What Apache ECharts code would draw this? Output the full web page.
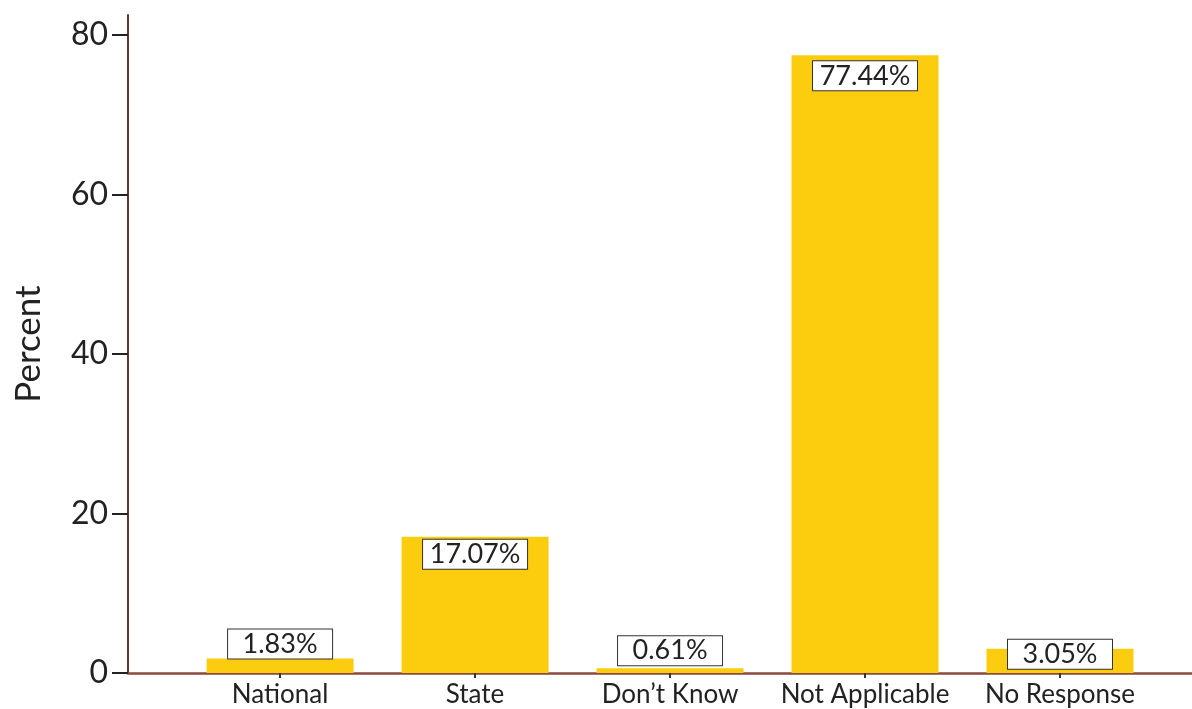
<!DOCTYPE html>
<html>
<head>
<meta charset="utf-8">
<script src="https://cdn.jsdelivr.net/npm/echarts@6/dist/echarts.min.js"></script>
<style>
  html, body { margin: 0; padding: 0; background: #fff; }
  #chart { width: 1192px; height: 709px; }
</style>
</head>
<body>
<div id="chart"></div>
<script>
var categories = ['National', 'State', 'Don\u2019t Know', 'Not Applicable', 'No Response'];
var percents = [1.83, 17.07, 0.61, 77.44, 3.05];
var yTicks = [0, 20, 40, 60, 80];

// label box placement relative to each bar top (px)
var labelShift = [0, 32, -3, 35, 20];

var chart = echarts.init(document.getElementById('chart'), null, { renderer: 'canvas' });

var barData = percents.map(function (v, i) {
  return {
    value: [i, v],
    label: { offset: [0, labelShift[i]] }
  };
});

var option = {
  animation: false,
  grid: { left: 128, right: 0, top: 15, bottom: 36 },
  xAxis: {
    type: 'value',
    min: -0.78,
    max: 4.677,
    splitLine: { show: false },
    axisLine: { show: true, onZero: false, lineStyle: { color: '#8a4a3e', width: 2.5 } },
    axisTick: {
      show: true,
      customValues: [0, 1, 2, 3, 4],
      length: 5,
      lineStyle: { color: '#333', width: 2 }
    },
    axisLabel: {
      customValues: [0, 1, 2, 3, 4],
      formatter: function (v) { return categories[Math.round(v)]; },
      fontFamily: 'Lato',
      fontSize: 26,
      color: '#222',
      margin: 9
    }
  },
  yAxis: {
    type: 'value',
    min: 0,
    max: 82.5,
    interval: 20,
    name: 'Percent',
    nameLocation: 'middle',
    nameGap: 82,
    nameTextStyle: { fontFamily: 'Lato', fontSize: 35, color: '#222' },
    splitLine: { show: false },
    axisLine: { show: true, onZero: false, lineStyle: { color: '#5a3838', width: 2 } },
    axisTick: {
      show: true,
      customValues: yTicks,
      length: 16,
      lineStyle: { color: '#222', width: 2 }
    },
    axisLabel: {
      customValues: yTicks,
      fontFamily: 'Lato',
      fontSize: 32,
      color: '#222',
      margin: 20
    }
  },
  series: [{
    type: 'bar',
    barWidth: 147,
    itemStyle: { color: '#fccd0e' },
    label: {
      show: true,
      position: 'top',
      distance: 0,
      formatter: function (p) { return p.value[1].toFixed(2) + '%'; },
      fontFamily: 'Lato',
      fontSize: 27,
      color: '#222',
      backgroundColor: '#fff',
      borderColor: '#333',
      borderWidth: 1,
      width: 104,
      height: 29,
      lineHeight: 29,
      align: 'center'
    },
    data: barData
  }]
};

chart.setOption(option);
</script>
</body>
</html>
